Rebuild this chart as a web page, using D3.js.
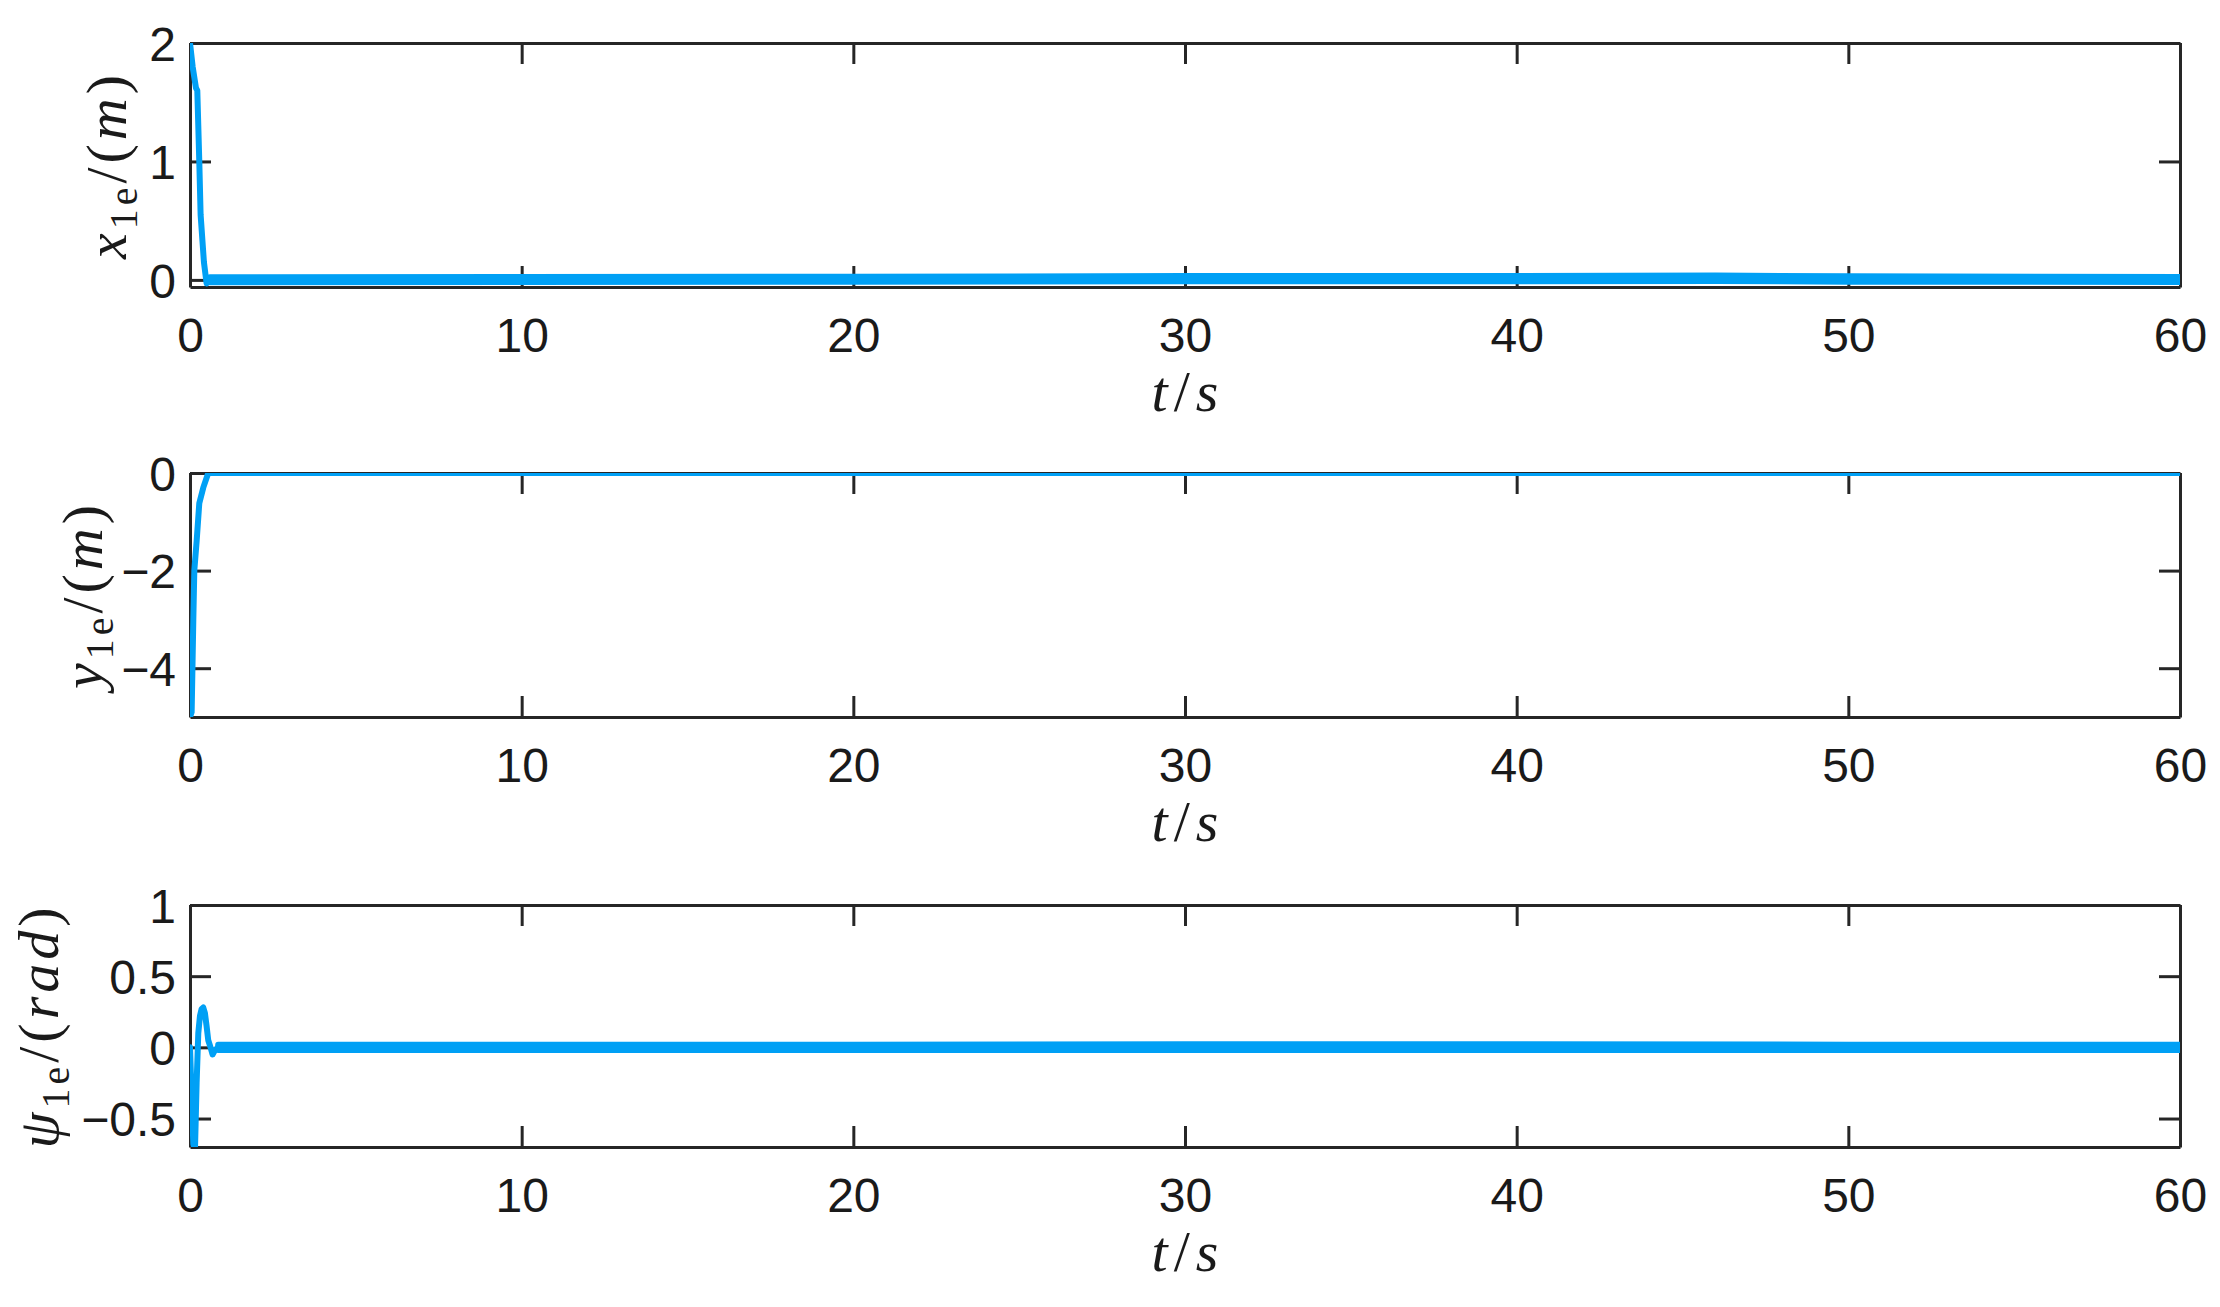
<!DOCTYPE html>
<html>
<head>
<meta charset="utf-8">
<script src="https://cdn.jsdelivr.net/npm/d3@7"></script>
<style>
  html, body { margin: 0; padding: 0; background: #fff; }
  svg { display: block; }
</style>
</head>
<body>
<svg id="chart" width="2220" height="1307"></svg>
<script>
// ---------------- data ----------------
const xTicks = [0, 10, 20, 30, 40, 50, 60];

// x1e
const tX1 = [0, 0.08, 0.18, 0.22, 0.28, 0.32, 0.42, 0.5, 0.6, 1, 5, 10, 15, 20, 25, 30, 35, 40, 45, 46, 50, 55, 60];
const vX1 = [2, 1.8, 1.62, 1.6, 1.0, 0.55, 0.15, -0.03, 0.0, 0.005, 0.005, 0.005, 0.006, 0.008, 0.01, 0.012, 0.012, 0.012, 0.014, 0.016, 0.01, 0.007, 0.005];
const tX1Band = [0.6, 10, 20, 30, 40, 46, 50, 60];
const loX1Band = [-0.02, -0.018, -0.015, -0.012, -0.012, -0.01, -0.015, -0.018];
const hiX1Band = [0.022, 0.024, 0.027, 0.032, 0.033, 0.037, 0.03, 0.025];
const yTicksX1 = [0, 1, 2];

// y1e
const tY1 = [0, 0.05, 0.1, 0.13, 0.2, 0.28, 0.4, 0.55, 1, 10, 20, 30, 40, 50, 60];
const vY1 = [-5, -4.9, -3, -2, -1.4, -0.62, -0.3, 0, 0, 0, 0, 0, 0, 0, 0];
const yTicksY1 = [-4, -2, 0];

// psi1e
const tPsi = [0, 0.05, 0.1, 0.15, 0.2, 0.25, 0.3, 0.35, 0.4, 0.45, 0.5, 0.55, 0.62, 0.68, 0.75, 0.85, 1, 10, 20, 30, 40, 50, 60];
const vPsi = [0, -0.35, -0.68, -0.72, -0.25, 0.1, 0.22, 0.27, 0.28, 0.24, 0.15, 0.05, 0, -0.05, -0.02, 0, 0, 0, 0, 0, 0, 0, 0];
const tPsiBand = [0.85, 10, 20, 30, 40, 50, 60];
const loPsiBand = [-0.019, -0.019, -0.019, -0.019, -0.019, -0.019, -0.019];
const hiPsiBand = [0.019, 0.019, 0.019, 0.021, 0.021, 0.019, 0.019];
const yTicksPsi = [-0.5, 0, 0.5, 1];

// ---------------- layout ----------------
const svg = d3.select("#chart");
const X0 = 190, X1 = 2180;
const lineColor = "#00A0F5";
const axisColor = "#262626";
const tickLen = 21;
const lw = 6;

const x = d3.scaleLinear().domain([0, 60]).range([X0, X1]);

const panels = [
  { id: "p1", top: 43, bottom: 287, domain: [-0.06, 2], ticks: yTicksX1, t: tX1, v: vX1,
    band: { t: tX1Band, lo: loX1Band, hi: hiX1Band },
    label: [["x", "i"], ["1e", "sub"], ["/(", "r"], ["m", "i"], [")", "r"]], labelX: 126 },
  { id: "p2", top: 473, bottom: 717, domain: [-5, 0], ticks: yTicksY1, t: tY1, v: vY1, band: null,
    label: [["y", "i"], ["1e", "sub"], ["/(", "r"], ["m", "i"], [")", "r"]], labelX: 102 },
  { id: "p3", top: 905, bottom: 1147, domain: [-0.7, 1], ticks: yTicksPsi, t: tPsi, v: vPsi,
    band: { t: tPsiBand, lo: loPsiBand, hi: hiPsiBand },
    label: [["ψ", "i"], ["1e", "sub"], ["/(", "r"], ["rad", "i"], [")", "r"]], labelX: 58 }
];

const fmt = d => (d < 0 ? "\u2212" : "") + String(Math.abs(d));
const serif = "'Liberation Serif', 'Times New Roman', serif";

panels.forEach(p => {
  const y = d3.scaleLinear().domain(p.domain).range([p.bottom, p.top]);
  const g = svg.append("g");

  g.append("clipPath").attr("id", "clip-" + p.id)
    .append("rect").attr("x", X0).attr("y", p.top).attr("width", X1 - X0).attr("height", p.bottom - p.top);

  const axB = d3.axisBottom(x).tickValues(xTicks).tickSizeInner(-tickLen).tickSizeOuter(0).tickFormat(fmt);
  const axT = d3.axisTop(x).tickValues(xTicks).tickSizeInner(-tickLen).tickSizeOuter(0).tickFormat("");
  const axL = d3.axisLeft(y).tickValues(p.ticks).tickSizeInner(-tickLen).tickSizeOuter(0).tickFormat(fmt);
  const axR = d3.axisRight(y).tickValues(p.ticks).tickSizeInner(-tickLen).tickSizeOuter(0).tickFormat("");

  const styleAxis = (sel) => {
    sel.select(".domain").attr("stroke", axisColor).attr("stroke-width", 3).attr("fill", "none");
    sel.selectAll(".tick line").attr("stroke", axisColor).attr("stroke-width", 3);
    sel.selectAll(".tick text").attr("fill", "#1a1a1a")
      .style("font-family", "'Liberation Sans', Arial, sans-serif").style("font-size", "48px");
  };

  const gB = g.append("g").attr("transform", `translate(0,${p.bottom})`).call(axB).call(styleAxis);
  gB.selectAll(".tick text").attr("y", 0).attr("dy", 0).attr("transform", "translate(0,65)");
  g.append("g").attr("transform", `translate(0,${p.top})`).call(axT).call(styleAxis);
  const gL = g.append("g").attr("transform", `translate(${X0},0)`).call(axL).call(styleAxis);
  gL.selectAll(".tick text").attr("x", -14).attr("dy", "0.36em").attr("text-anchor", "end");
  g.append("g").attr("transform", `translate(${X1},0)`).call(axR).call(styleAxis);

  // data
  const dg = g.append("g").attr("clip-path", `url(#clip-${p.id})`);
  if (p.band) {
    const bandData = p.band.t.map((t, i) => ({ t, lo: p.band.lo[i], hi: p.band.hi[i] }));
    dg.append("path").datum(bandData)
      .attr("fill", lineColor)
      .attr("stroke", lineColor).attr("stroke-width", lw).attr("stroke-linejoin", "round")
      .attr("d", d3.area().x(d => x(d.t)).y0(d => y(d.lo)).y1(d => y(d.hi)));
  }
  const lineData = p.t.map((t, i) => ({ t, v: p.v[i] }));
  dg.append("path").datum(lineData)
    .attr("fill", "none").attr("stroke", lineColor).attr("stroke-width", lw)
    .attr("stroke-linejoin", "round").attr("stroke-linecap", "round")
    .attr("d", d3.line().x(d => x(d.t)).y(d => y(d.v)));

  // x label
  const xl = g.append("text")
    .attr("x", (X0 + X1) / 2 + 3).attr("y", p.bottom + 124)
    .attr("text-anchor", "middle")
    .style("font-family", serif).style("font-size", "58px").style("letter-spacing", "6px")
    .attr("fill", "#1a1a1a");
  xl.append("tspan").style("font-style", "italic").text("t");
  xl.append("tspan").text("/");
  xl.append("tspan").style("font-style", "italic").text("s");

  // y label
  const yl = g.append("text")
    .attr("transform", `translate(${p.labelX},${(p.top + p.bottom) / 2}) rotate(-90)`)
    .attr("text-anchor", "middle")
    .style("font-family", serif).style("font-size", "58px").style("letter-spacing", "4px")
    .attr("fill", "#1a1a1a");
  let shifted = false;
  p.label.forEach(([txt, kind]) => {
    const ts = yl.append("tspan").text(txt);
    if (kind === "i") ts.style("font-style", "italic");
    if (kind === "sub") { ts.style("font-size", "40px").attr("dy", 11); shifted = true; }
    else if (shifted) { ts.attr("dy", -11); shifted = false; }
  });
});
</script>
</body>
</html>
